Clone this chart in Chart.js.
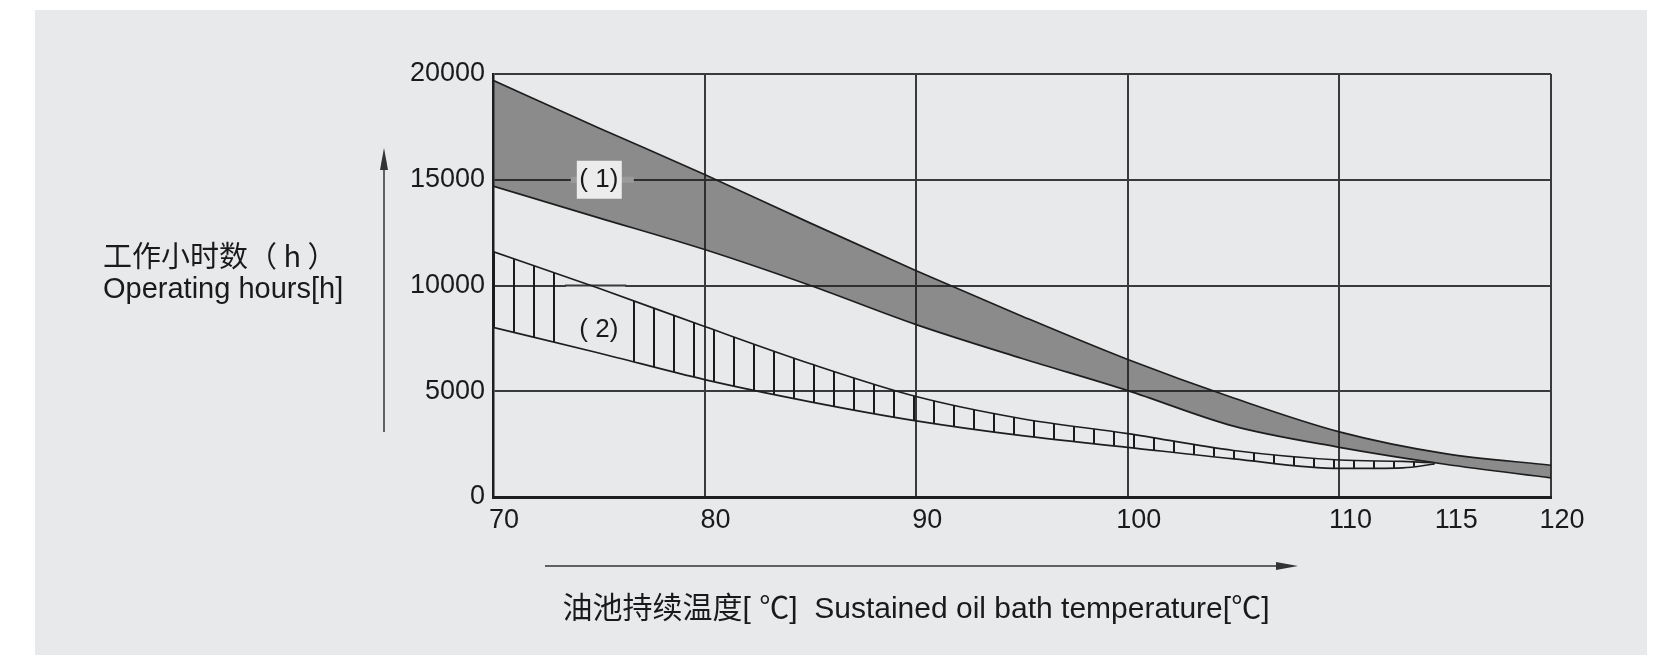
<!DOCTYPE html>
<html>
<head>
<meta charset="utf-8">
<script src="https://cdn.jsdelivr.net/npm/chart.js@4.4.0/dist/chart.umd.min.js"></script>
<style>
  html, body { margin: 0; background: #fff; }
  canvas { display: block; }
</style>
</head>
<body>
<canvas id="c" width="1671" height="658" style="width:1671px;height:658px"></canvas>
<script>
// === 데이터 ===
// (1) 회색 띠
const tempX = [70, 75, 80, 85, 90, 95, 100, 105, 110, 115, 120];
const band1Upper = [19700, 17450, 15250, 12950, 10700, 8550, 6500, 4680, 3080, 2050, 1500];
const band1Lower = [14700, 13200, 11700, 10000, 8150, 6550, 5030, 3350, 2350, 1550, 900];
// (2) 세로 빗금 띠
const temp2X = [70, 75, 80, 85, 90, 95, 100, 105, 110, 113, 114.5];
const band2Upper = [11600, 9870, 8060, 6300, 4750, 3700, 3000, 2200, 1750, 1680, 1620];
const band2Lower = [8020, 6810, 5550, 4500, 3600, 2900, 2350, 1800, 1350, 1380, 1560];
// 축 눈금
const xTicks = [70, 80, 90, 100, 110, 115, 120];
const yTicks = [0, 5000, 10000, 15000, 20000];
// 띠 라벨 위치
const label1At = { x: 75, y: 15000 };
const label2At = { x: 75, y: 7900 };

const PANEL = '#e8e9eb';
const LINE = '#1e1e1e';
const GRID = '#3a3a3a';
const TEXT = '#1a1a1a';
const FONT = '"Liberation Sans", Arial, "Noto Sans CJK SC", sans-serif';
const CJK = '"Noto Sans CJK SC", "Liberation Sans", sans-serif';

const canvas = document.getElementById('c');
const ctx0 = canvas.getContext('2d');

// 세로 빗금 패턴
function hatchPattern() {
  const t = document.createElement('canvas');
  t.width = 20; t.height = 8;
  const g = t.getContext('2d');
  g.strokeStyle = '#1a1a1a';
  g.lineWidth = 2;
  g.beginPath(); g.moveTo(14, 0); g.lineTo(14, 8); g.stroke();
  return ctx0.createPattern(t, 'repeat');
}

const pts = (xs, ys) => xs.map((x, i) => ({ x, y: ys[i] }));

const lineStyle = {
  borderColor: LINE,
  borderWidth: 1.7,
  pointRadius: 0,
  cubicInterpolationMode: 'monotone',
};

// 배경 패널, 라벨, 화살표, 축 제목
const decor = {
  id: 'decor',
  beforeDraw(chart) {
    const c = chart.ctx;
    c.save();
    c.fillStyle = '#fff';
    c.fillRect(0, 0, chart.width, chart.height);
    c.fillStyle = PANEL;
    c.fillRect(35, 10, 1612, 645);
    c.restore();
  },
  beforeDatasetsDraw(chart) {
    // (2) 라벨 주변은 빗금 없음
    const { x, y } = chart.scales;
    const c = chart.ctx;
    const x1 = x.getPixelForValue(73.45), x2 = x.getPixelForValue(76.25);
    const y1 = y.getPixelForValue(10400), y2 = y.getPixelForValue(6300);
    c.save();
    c.fillStyle = PANEL;
    c.fillRect(x1, y1, x2 - x1, y2 - y1);
    // 지운 구간의 10000 격자선 복구
    const gy = y.getPixelForValue(10000);
    c.strokeStyle = GRID; c.lineWidth = 2;
    c.beginPath(); c.moveTo(x1 - 1, gy); c.lineTo(x2 + 1, gy); c.stroke();
    c.restore();
  },
  afterDatasetsDraw(chart) {
    const { x, y } = chart.scales;
    const c = chart.ctx;
    c.save();
    // (1) 라벨 상자
    const cx = x.getPixelForValue(label1At.x), cy = y.getPixelForValue(label1At.y);
    c.fillStyle = '#9a9a9a';
    c.fillRect(cx - 28, cy - 3, 63, 6);
    c.fillStyle = '#ececec';
    c.fillRect(cx - 22, cy - 19, 45, 38);
    c.fillStyle = TEXT;
    c.font = '26px ' + FONT;
    c.textAlign = 'center';
    c.textBaseline = 'middle';
    c.fillText('( 1)', cx, cy);
    // (2) 라벨
    const cx2 = x.getPixelForValue(label2At.x), cy2 = y.getPixelForValue(label2At.y);
    c.fillText('( 2)', cx2, cy2);
    c.restore();
  },
  afterDraw(chart) {
    const c = chart.ctx;
    c.save();
    c.strokeStyle = '#333'; c.fillStyle = '#333'; c.lineWidth = 1.5;
    // 세로 화살표
    c.beginPath(); c.moveTo(384, 432); c.lineTo(384, 166); c.stroke();
    c.beginPath(); c.moveTo(384, 148); c.lineTo(380, 170); c.lineTo(388, 170); c.closePath(); c.fill();
    // 가로 화살표
    c.beginPath(); c.moveTo(545, 566); c.lineTo(1280, 566); c.stroke();
    c.beginPath(); c.moveTo(1298, 566); c.lineTo(1276, 562); c.lineTo(1276, 570); c.closePath(); c.fill();

    c.fillStyle = TEXT;
    c.textBaseline = 'middle';
    c.textAlign = 'left';
    c.font = '29px ' + CJK;
    c.fillText('工作小时数（ h ）', 103, 256);
    c.font = '29px ' + FONT;
    c.fillText('Operating hours[h]', 103, 290);
    c.textAlign = 'center';
    c.font = '30px ' + FONT;
    c.fillText('油池持续温度[ ℃]  Sustained oil bath temperature[℃]', 916, 610);
    c.restore();
  },
};

new Chart(canvas, {
  type: 'line',
  data: {
    datasets: [
      { label: '(1) upper', data: pts(tempX, band1Upper), ...lineStyle, fill: false },
      { label: '(1) lower', data: pts(tempX, band1Lower), ...lineStyle, fill: '-1', backgroundColor: 'rgba(35,35,35,0.47)' },
      { label: '(2) upper', data: pts(temp2X, band2Upper), ...lineStyle, fill: false },
      { label: '(2) lower', data: pts(temp2X, band2Lower), ...lineStyle, fill: '-1', backgroundColor: hatchPattern() },
    ],
  },
  options: {
    responsive: false,
    animation: false,
    layout: { padding: { left: 393, right: 120, top: 74, bottom: 101 } },
    plugins: {
      legend: { display: false },
      tooltip: { enabled: false },
      filler: { drawTime: 'beforeDatasetsDraw' },
    },
    scales: {
      x: {
        type: 'linear', min: 70, max: 120,
        afterBuildTicks: (s) => { s.ticks = xTicks.map(v => ({ value: v })); },
        afterFit: (s) => { s.height = 60; },
        grid: {
          color: (ctx) => (ctx.tick && ctx.tick.value === 115 ? 'rgba(0,0,0,0)' : GRID),
          lineWidth: 2, drawTicks: false,
        },
        border: { color: LINE, width: 3 },
        ticks: {
          color: TEXT, font: { family: FONT, size: 27 }, padding: 7, labelOffset: 11,
          maxRotation: 0, autoSkip: false, callback: (v) => String(v),
        },
      },
      y: {
        min: 0, max: 20000,
        afterBuildTicks: (s) => { s.ticks = yTicks.map(v => ({ value: v })); },
        afterFit: (s) => { s.width = 100; },
        grid: { color: GRID, lineWidth: 2, drawTicks: false },
        border: { color: LINE, width: 2.5 },
        ticks: { color: TEXT, font: { family: FONT, size: 27 }, padding: 8, callback: (v) => String(v) },
      },
    },
  },
  plugins: [decor],
});
</script>
</body>
</html>
